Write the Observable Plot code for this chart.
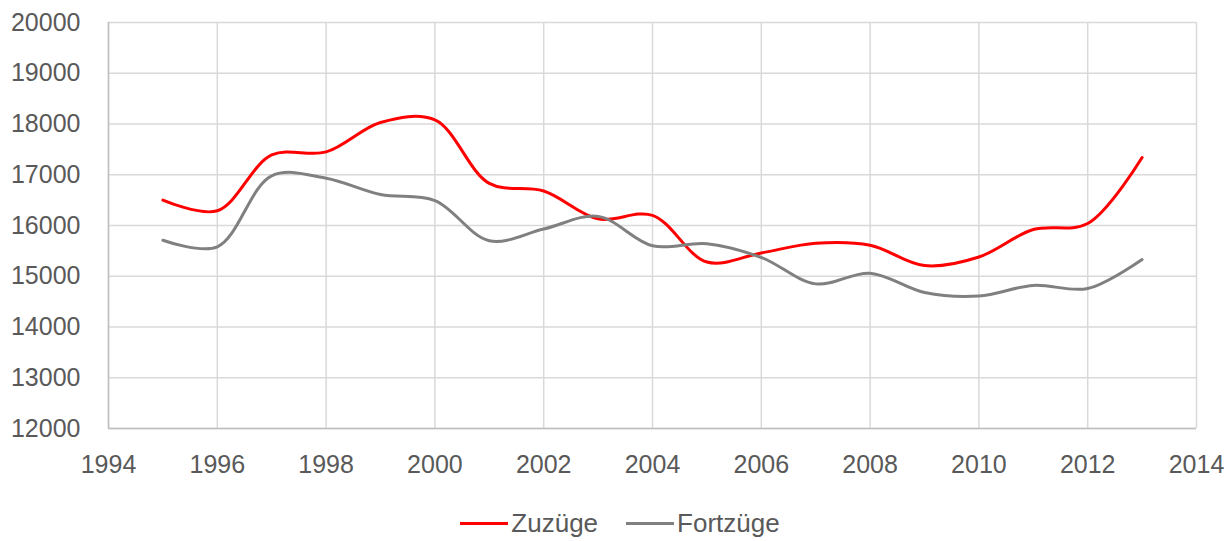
<!DOCTYPE html>
<html>
<head>
<meta charset="utf-8">
<script src="https://cdn.jsdelivr.net/npm/d3@7"></script>
<script src="https://cdn.jsdelivr.net/npm/@observablehq/plot@0.6"></script>
<style>
  body { margin: 0; background: #fff; font-family: "Liberation Sans", Arial, sans-serif; }
  #chart { width: 1232px; height: 480px; }
  .legend { display: flex; justify-content: center; align-items: center; gap: 28px; height: 40px; margin-top: 23px; font-size: 26px; color: #595959; padding-left: 8px; }
  .legend .item { display: flex; align-items: center; }
  .legend .sw { display: inline-block; width: 48px; height: 3px; margin-right: 3px; }
</style>
</head>
<body>
<div id="chart"></div>
<script>
const years = [1995,1996,1997,1998,1999,2000,2001,2002,2003,2004,2005,2006,2007,2008,2009,2010,2011,2012,2013];
const zuzuege = [16500,16290,17390,17450,18030,18080,16830,16680,16130,16200,15280,15460,15650,15610,15210,15380,15920,16040,17340];
const fortzuege = [15710,15580,16980,16930,16610,16490,15700,15930,16180,15600,15640,15370,14850,15060,14680,14610,14820,14760,15330];
const seriesNames = ["Zuzüge", "Fortzüge"];
const seriesColors = ["#ff0000", "#808080"];
const xTicks = [1994,1996,1998,2000,2002,2004,2006,2008,2010,2012,2014];
const yTicks = [12000,13000,14000,15000,16000,17000,18000,19000,20000];

const rows = [];
years.forEach((y, i) => {
  rows.push({year: y, value: zuzuege[i], series: seriesNames[0]});
  rows.push({year: y, value: fortzuege[i], series: seriesNames[1]});
});

const chart = Plot.plot({
  width: 1232,
  height: 480,
  marginLeft: 108,
  marginRight: 36,
  marginTop: 22,
  marginBottom: 52,
  style: { fontFamily: "'Liberation Sans', Arial, sans-serif", fontSize: "25px", color: "#595959", background: "#fff", overflow: "visible" },
  x: { domain: [1994, 2014], label: null },
  y: { domain: [12000, 20000], label: null },
  color: { domain: seriesNames, range: seriesColors },
  marks: [
    Plot.gridY(yTicks, { stroke: "#d9d9d9", strokeOpacity: 1, strokeWidth: 1.5 }),
    Plot.gridX(xTicks, { stroke: "#d9d9d9", strokeOpacity: 1, strokeWidth: 1.5 }),
    Plot.ruleX([1994], { stroke: "#bfbfbf", strokeWidth: 1.5 }),
    Plot.ruleY([12000], { stroke: "#bfbfbf", strokeWidth: 1.5 }),
    Plot.axisY({ ticks: yTicks, tickSize: 0, tickPadding: 28, tickFormat: d => String(d), fill: "#595959", fontSize: 25, label: null }),
    Plot.axisX({ ticks: xTicks, tickSize: 0, tickPadding: 27, tickFormat: d => String(d), fill: "#595959", fontSize: 25, label: null }),
    Plot.line(rows, { x: "year", y: "value", z: "series", stroke: "series", strokeWidth: 3, curve: "catmull-rom" })
  ]
});
document.getElementById("chart").appendChild(chart);

const legend = document.createElement("div");
legend.className = "legend";
seriesNames.forEach((n, i) => {
  const item = document.createElement("span");
  item.className = "item";
  const sw = document.createElement("span");
  sw.className = "sw";
  sw.style.background = seriesColors[i];
  item.appendChild(sw);
  const t = document.createElement("span");
  t.textContent = n;
  item.appendChild(t);
  legend.appendChild(item);
});
document.body.appendChild(legend);
</script>
</body>
</html>
